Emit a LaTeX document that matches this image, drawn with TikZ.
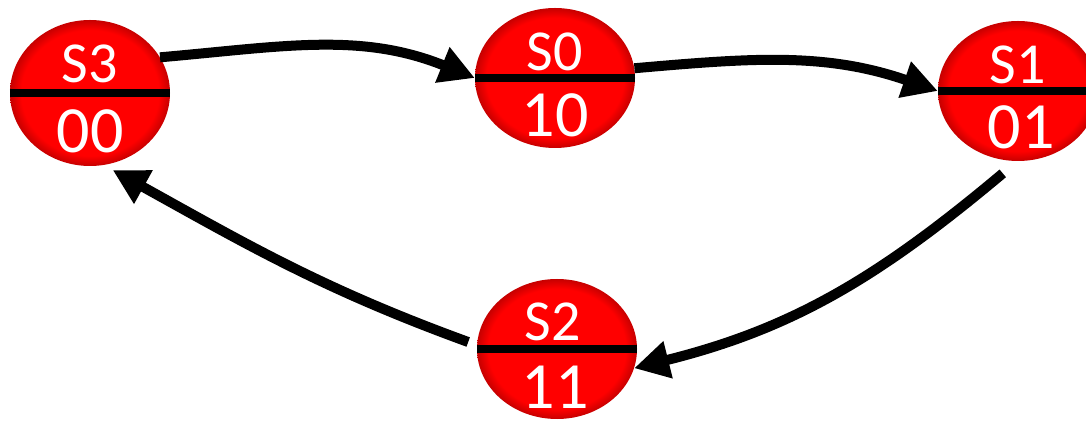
\documentclass[tikz,border=0pt]{standalone}
\usepackage{fontspec}
\setmainfont{Carlito}
\usetikzlibrary{shapes.geometric,arrows.meta}
\pgfdeclareradialshading{ballred}{\pgfpoint{0bp}{0bp}}{color(0bp)=(red); color(21.5bp)=(red); color(25bp)=(red!78!black); color(50bp)=(red!78!black)}
\tikzset{
  statebox/.style={ellipse, minimum width=160pt, minimum height=140pt, inner sep=0pt, shading=ballred},
  divider/.style={line width=8pt, black},
  toplbl/.style={text=white, inner sep=0pt, font=\fontsize{58}{60}\selectfont},
  botlbl/.style={text=white, inner sep=0pt, font=\fontsize{66}{68}\selectfont},
  arr/.style={line width=10pt, -{Triangle[length=35pt,width=36pt]}, black}
}
\begin{document}
\begin{tikzpicture}[x=1pt,y=1pt]
\useasboundingbox (0,0) rectangle (1086,420);
% states
\node[statebox, minimum height=146pt] (s3) at (90,327) {};
\node[statebox] (s0) at (555,342) {};
\node[statebox] (s1) at (1018,329) {};
\node[statebox] (s2) at (557,71) {};
% dividers
\draw[divider] (s3.west) -- (s3.east);
\draw[divider] (s0.west) -- (s0.east);
\draw[divider] (s1.west) -- (s1.east);
\draw[divider] (s2.west) -- (s2.east);
% labels
\node[toplbl] (s3t) at (90,356) {S3};
\node[botlbl] (s3b) at (90,289) {00};
\node[toplbl] (s0t) at (555,368) {S0};
\node[botlbl] (s0b) at (555,305) {10};
\node[toplbl] (s1t) at (1018,355) {S1};
\node[botlbl] (s1b) at (1021,293) {01};
\node[toplbl] (s2t) at (553,98) {S2};
\node[botlbl] (s2b) at (555,33) {11};
% transitions
\draw[arr] (s3.27) to[out=5,in=158] (s0.180);
\draw[arr] (s0.7) to[out=5,in=161] (s1.180);
\draw[arr] ([shift={(-3pt,-13pt)}]s1.260) to[out=220,in=14] (s2.-14);
\draw[arr] ([xshift=-9pt]s2.175) to[out=160,in=331] ([yshift=-7pt]s3.-72);
\end{tikzpicture}
\end{document}
